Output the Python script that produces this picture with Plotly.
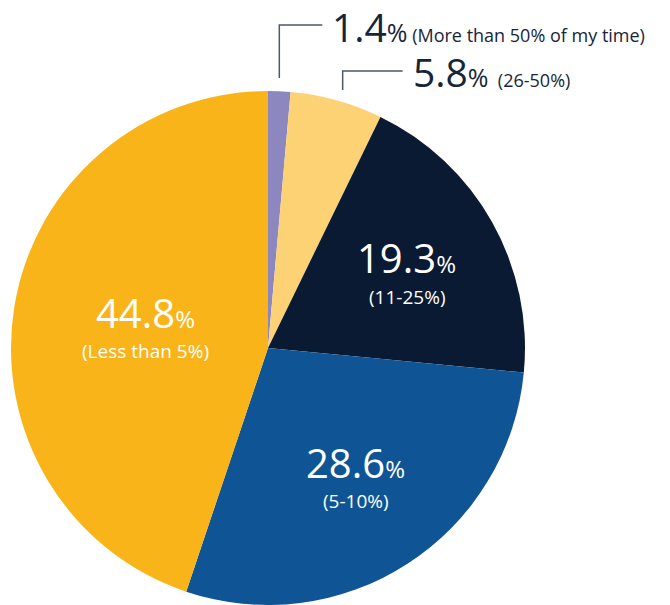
import math
import plotly.graph_objs as go

# data
shares = [1.4, 5.8, 19.3, 28.6, 44.8]
ranges = ["(More than 50% of my time)", "(26-50%)", "(11-25%)", "(5-10%)", "(Less than 5%)"]
colors = ["#8c88bf", "#fdd275", "#0b1a33", "#0f5596", "#f9b41a"]

W, H = 670, 605
CX, CY, R = 268, 348, 257
DARK = "#17253a"
FONT = "Open Sans"


def px(x, y):
    return x / W, 1 - y / H


fig = go.Figure(
    go.Pie(
        values=shares,
        labels=ranges,
        sort=False,
        direction="clockwise",
        rotation=0,
        marker=dict(colors=colors, line=dict(width=0)),
        textinfo="none",
        hoverinfo="label+value",
        domain=dict(x=[(CX - R) / W, (CX + R) / W], y=[(H - CY - R) / H, (H - CY + R) / H]),
    )
)

annotations = []
shapes = []
total = sum(shares)
cum = 0
for i, (v, lab) in enumerate(zip(shares, ranges)):
    mid = (cum + v / 2) / total * 2 * math.pi
    cum += v
    if v > 10:
        rf = 0.6 if v < 40 else 0.5
        x = CX + R * rf * math.sin(mid) + 4
        y = CY - R * rf * math.cos(mid)
        ax, ay = px(x, y - 15)
        annotations.append(dict(
            x=ax, y=ay, xref="paper", yref="paper", showarrow=False,
            text=f"{v}<span style='font-size:24px'>%</span>",
            font=dict(family=FONT, size=40, color="white"),
            xanchor="center", yanchor="middle",
        ))
        bx, by = px(x, y + 24)
        annotations.append(dict(
            x=bx, y=by, xref="paper", yref="paper", showarrow=False,
            text=lab,
            font=dict(family=FONT, size=19, color="white"),
            xanchor="center", yanchor="middle",
        ))
    else:
        # leader line from slice edge up and to the right
        sx = CX + R * math.sin(mid)
        top = 25 if i == 0 else 71
        x0 = sx if i == 0 else sx + 6
        bottom = 78 if i == 0 else 90
        x1 = x0 + 43 if i == 0 else x0 + 60
        p0 = px(x0, bottom)
        p1 = px(x0, top)
        p2 = px(x1, top)
        shapes.append(dict(
            type="path", xref="paper", yref="paper",
            path=f"M {p0[0]} {p0[1]} L {p1[0]} {p1[1]} L {p2[0]} {p2[1]}",
            line=dict(color="#4d5868", width=1.5),
        ))
        tx, ty = px(x1 + 8, top + 1)
        gap = "" if i == 0 else "&nbsp;"
        annotations.append(dict(
            x=tx, y=ty, xref="paper", yref="paper", showarrow=False,
            text=(f"<span style='font-size:39px'>{v}</span>"
                  f"<span style='font-size:25px'>%</span> {gap}{lab}"),
            font=dict(family=FONT, size=18, color=DARK),
            align="left", xanchor="left", yanchor="middle",
        ))

fig.update_layout(
    width=W,
    height=H,
    showlegend=False,
    margin=dict(l=0, r=0, t=0, b=0),
    paper_bgcolor="white",
    plot_bgcolor="white",
    annotations=annotations,
    shapes=shapes,
)

fig.write_html("out.html", config=dict(displayModeBar=False),
               post_script="document.body.style.margin='0';")
